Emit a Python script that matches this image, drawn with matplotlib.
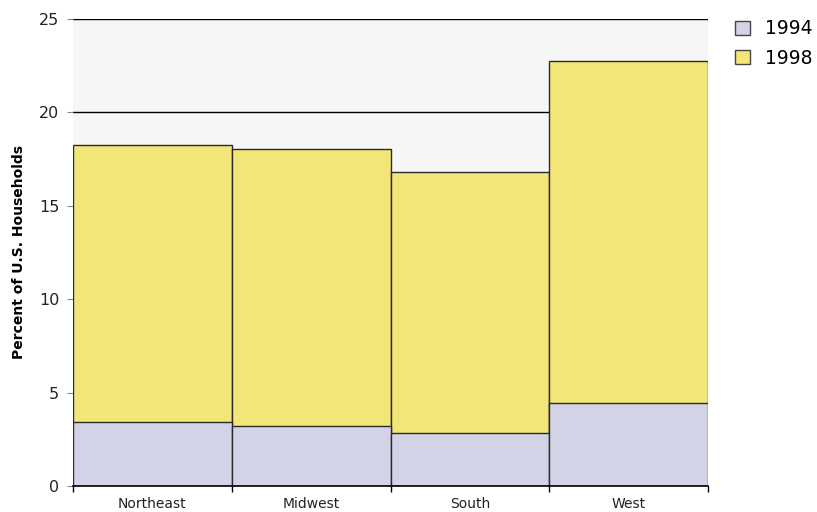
import matplotlib
matplotlib.use("Agg")
import matplotlib.pyplot as plt
from matplotlib.patches import Patch

regions = ["Northeast", "Midwest", "South", "West"]
pct_1994 = [3.4, 3.2, 2.85, 4.45]
pct_1998 = [18.25, 18.05, 16.8, 22.75]
y_ticks = [0, 5, 10, 15, 20, 25]

col_1994 = "#d2d3e7"
col_1998 = "#f3e679"
edge = "#2a2a2a"

fig = plt.figure(figsize=(8.17, 5.12), dpi=100)
ax = fig.add_axes([0.0894, 0.0508, 0.7772, 0.9121])
ax.set_facecolor("#f6f6f6")

x = list(range(len(regions)))
ax.bar(x, pct_1998, width=1.0, color=col_1998, edgecolor=edge, linewidth=1.0, zorder=3)
ax.bar(x, pct_1994, width=1.0, color=col_1994, edgecolor=edge, linewidth=1.0, zorder=4)

ax.set_xlim(-0.5, len(regions) - 0.5)
ax.set_ylim(0, 25)
ax.set_yticks(y_ticks)
ax.set_yticklabels([str(t) for t in y_ticks], fontsize=11.5, color="#222222")
ax.yaxis.grid(True, color="black", linewidth=1.0, zorder=1)
ax.set_axisbelow(True)

ax.set_xticks(x)
ax.set_xticklabels(regions, fontsize=10, color="#222222")
ax.set_xticks([i - 0.5 for i in range(len(regions) + 1)], minor=True)
ax.tick_params(axis="x", which="major", length=0, pad=8)
ax.tick_params(axis="x", which="minor", length=4, color="black", width=1)
ax.tick_params(axis="y", length=4, color="#888888", pad=6)

for s in ("top", "right", "left"):
    ax.spines[s].set_visible(False)
ax.spines["bottom"].set_color("black")
ax.spines["bottom"].set_linewidth(1.2)
ax.spines["bottom"].set_zorder(5)

ax.set_ylabel("Percent of U.S. Households", fontsize=10, fontweight="bold", labelpad=9)

handles = [Patch(facecolor=col_1994, edgecolor="#444444", label="1994"),
           Patch(facecolor=col_1998, edgecolor="#444444", label="1998")]
fig.legend(handles=handles, loc="upper left", bbox_to_anchor=(0.879, 0.995),
           frameon=False, fontsize=13.5, handlelength=0.8, handleheight=0.8,
           handletextpad=0.8, labelspacing=0.55)

fig.savefig("out.png", dpi=100)
